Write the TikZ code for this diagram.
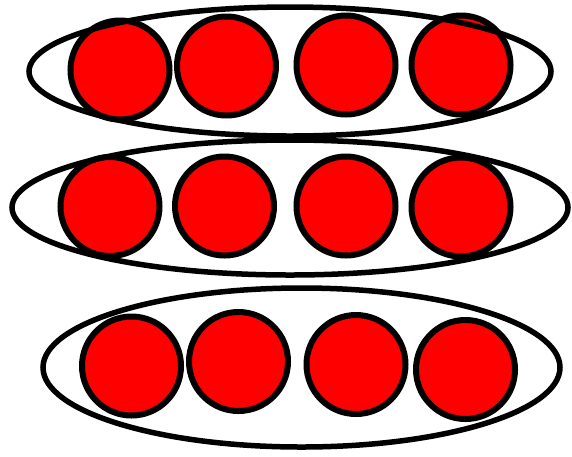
\documentclass[tikz,border=0pt]{standalone}
\usetikzlibrary{shapes.geometric}
\begin{document}
\begin{tikzpicture}[x=1pt,y=-1pt,
  ball/.style={circle,draw=black,fill=red,line width=6pt,minimum size=99pt,inner sep=0pt},
  group/.style={ellipse,draw=black,line width=5.5pt,inner sep=0pt}]
\useasboundingbox (0,0) rectangle (572,456);
% row 1
\node[ball] (a1) at (120,70) {};
\node[ball] (a2) at (226.5,66) {};
\node[ball] (a3) at (346,65) {};
\node[ball] (a4) at (461,65) {};
% row 2
\node[ball] (b1) at (110,206.5) {};
\node[ball] (b2) at (224.5,206) {};
\node[ball] (b3) at (346,206) {};
\node[ball] (b4) at (461,207) {};
% row 3
\node[ball] (c1) at (131.5,366) {};
\node[ball] (c2) at (238.5,361.5) {};
\node[ball] (c3) at (356,364.5) {};
\node[ball] (c4) at (465.5,369.5) {};
% groups
\node[group,minimum width=522pt,minimum height=129pt] (e1) at (290,71.5) {};
\node[group,minimum width=556pt,minimum height=135pt] (e2) at (290,207.5) {};
\node[group,minimum width=517pt,minimum height=159pt] (e3) at (301.5,367.5) {};
\end{tikzpicture}
\end{document}
